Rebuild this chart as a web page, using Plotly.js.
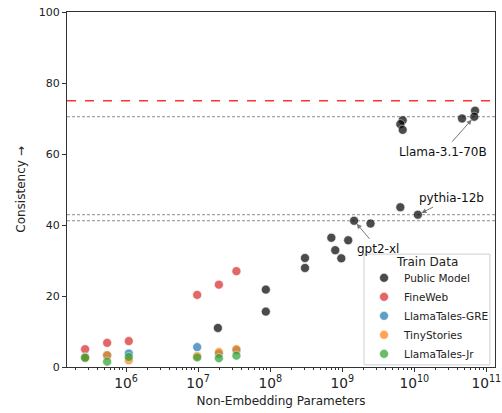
<!DOCTYPE html>
<html>
<head>
<meta charset="utf-8">
<script src="https://cdn.plot.ly/plotly-3.0.1.min.js"></script>
<style>html,body{margin:0;padding:0;background:#fff;}#chart{width:502px;height:413px;}</style>
</head>
<body>
<div id="chart"></div>
<script>
// Public checkpoints: non-embedding parameter count and consistency score
const publicParams = [1.88e7, 8.7e7, 8.7e7, 3.04e8, 3.04e8, 7.06e8, 8.0e8, 9.7e8, 1.21e9, 1.46e9, 2.47e9, 6.4e9, 1.12e10, 6.9e9, 6.4e9, 6.9e9, 4.6e10, 6.97e10, 6.8e10];
const publicScore  = [11.0, 21.8, 15.6, 30.7, 27.9, 36.4, 32.9, 30.6, 35.7, 41.2, 40.4, 45.0, 42.9, 69.5, 68.4, 66.8, 70.0, 72.2, 70.5];

// Models trained from scratch on each dataset
const trainedParams = [2.7e5, 5.46e5, 1.09e6, 9.7e6, 1.94e7, 3.4e7];
const fineWebScore     = [5.0, 6.8, 7.3, 20.3, 23.2, 27.0];
const greScore         = [2.8, 3.3, 3.8, 5.6, 3.7, 4.7];
const tinyStoriesScore = [2.6, 3.3, 1.9, 3.1, 4.2, 5.0];
const jrScore          = [2.6, 1.5, 2.8, 2.7, 2.5, 3.2];

// Highlighted models
const namedModels = ["Llama-3.1-70B", "pythia-12b", "gpt2-xl"];
const namedParams = [6.8e10, 1.12e10, 1.46e9];
const namedScore  = [70.5, 42.9, 41.2];

// Reference level
const referenceScore = 75;

const seriesNames = ["Public Model", "FineWeb", "LlamaTales-GRE", "TinyStories", "LlamaTales-Jr"];
const seriesColors = ["#000000", "#d62728", "#1f77b4", "#ff7f0e", "#2ca02c"];
const legendTitle = "Train Data";

function scatter(name, color, xs, ys) {
  return {
    type: "scatter", mode: "markers", name: name, x: xs, y: ys,
    marker: {color: color, opacity: 0.7, size: 9, line: {color: "#ffffff", width: 0.6}},
    hoverinfo: "skip"
  };
}

const traces = [
  scatter(seriesNames[0], seriesColors[0], publicParams, publicScore),
  scatter(seriesNames[1], seriesColors[1], trainedParams, fineWebScore),
  scatter(seriesNames[2], seriesColors[2], trainedParams, greScore),
  scatter(seriesNames[3], seriesColors[3], trainedParams, tinyStoriesScore),
  scatter(seriesNames[4], seriesColors[4], trainedParams, jrScore)
];

const shapes = [{
  type: "line", xref: "paper", x0: 0, x1: 1, yref: "y", y0: referenceScore, y1: referenceScore,
  line: {color: "#ff3333", width: 1.4, dash: "dash"}
}];
namedScore.forEach(v => shapes.push({
  type: "line", xref: "paper", x0: 0, x1: 1, yref: "y", y0: v, y1: v,
  line: {color: "#6e6e6e", width: 0.8, dash: "3px,2px"}, layer: "below"
}));
// legend frame (holds the legend title and entries)
shapes.push({
  type: "rect", xref: "paper", yref: "paper", x0: 0.694, x1: 0.988, y0: 0.006, y1: 0.318,
  line: {color: "#d0d0d0", width: 1}, fillcolor: "rgba(255,255,255,0.8)", layer: "above"
});

// label offsets (pixels) from each highlighted point to its text
const labelOffsets = [[-31, 35], [34, -17], [24, 28]];
const annotations = namedModels.map((m, i) => ({
  x: Math.log10(namedParams[i]), y: namedScore[i], xref: "x", yref: "y",
  text: m, showarrow: true, arrowhead: 2, arrowsize: 1, arrowwidth: 1, arrowcolor: "#777777",
  ax: labelOffsets[i][0], ay: labelOffsets[i][1], standoff: 4, startstandoff: 2,
  font: {family: "DejaVu Sans", size: 12, color: "#111"}
}));
annotations.push({
  xref: "paper", yref: "paper", x: 0.841, y: 0.295, xanchor: "center", yanchor: "middle",
  text: legendTitle, showarrow: false, font: {family: "DejaVu Sans", size: 12, color: "#222"}
});

const layout = {
  width: 502, height: 413,
  margin: {l: 67, r: 7, t: 12, b: 46},
  paper_bgcolor: "#fff", plot_bgcolor: "#fff",
  font: {family: "DejaVu Sans", size: 11, color: "#222"},
  showlegend: true,
  xaxis: {
    type: "log", range: [5.18, 11.12], dtick: 1, exponentformat: "power",
    showgrid: false, zeroline: false, showline: true, mirror: true, linecolor: "#333", linewidth: 1,
    ticks: "outside", ticklen: 4, tickcolor: "#333",
    minor: {ticks: "outside", ticklen: 2, tickcolor: "#333", showgrid: false},
    tickfont: {size: 11},
    title: {text: "Non-Embedding Parameters", font: {size: 12}, standoff: 6}
  },
  yaxis: {
    range: [0, 100], dtick: 20,
    showgrid: false, zeroline: false, showline: true, mirror: true, linecolor: "#333", linewidth: 1,
    ticks: "outside", ticklen: 4, tickcolor: "#333",
    tickfont: {size: 11},
    title: {text: "Consistency \u2192", font: {size: 12}, standoff: 10}
  },
  legend: {
    x: 0.694, y: 0.292, xanchor: "left", yanchor: "top",
    bgcolor: "rgba(0,0,0,0)", borderwidth: 0,
    font: {size: 10.5},
    itemsizing: "trace", tracegroupgap: 0, itemwidth: 30
  },
  shapes: shapes,
  annotations: annotations
};

Plotly.newPlot("chart", traces, layout, {displayModeBar: false, staticPlot: true});
</script>
</body>
</html>
